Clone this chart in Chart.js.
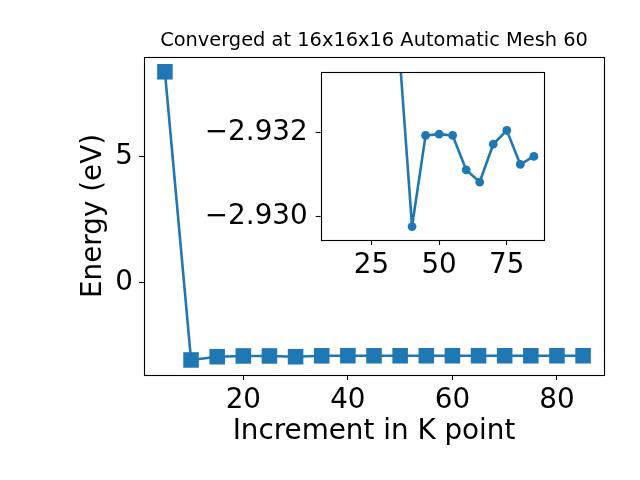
<!DOCTYPE html>
<html>
<head>
<meta charset="utf-8">
<script src="https://cdn.jsdelivr.net/npm/chart.js@4.4.0/dist/chart.umd.min.js"></script>
<style>
  body { margin: 0; background: #fff; }
  #wrap { position: relative; width: 640px; height: 480px; }
  #wrap canvas { position: absolute; left: 0; top: 0; }
</style>
</head>
<body>
<div id="wrap">
  <canvas id="main" width="640" height="480"></canvas>
  <canvas id="inset" width="640" height="480"></canvas>
</div>
<script>
// k-point increments and total energy (eV)
const kPoints = [5, 10, 15, 20, 25, 30, 35, 40, 45, 50, 55, 60, 65, 70, 75, 80, 85];
const energies = [8.40, -3.10, -2.97, -2.94, -2.94, -2.97, -2.9342, -2.92977, -2.93194,
  -2.93197, -2.93194, -2.93112, -2.93083, -2.93173, -2.93206, -2.93125, -2.93144];
const mainXTicks = [20, 40, 60, 80];
const mainYTicks = [0, 5];
const insetXTicks = [25, 50, 75];
const insetYTicks = [-2.932, -2.930];
const titleText = 'Converged at 16x16x16 Automatic Mesh 60';
const xLabel = 'Increment in K point';
const yLabel = 'Energy (eV)';

const blue = '#1f77b4';
Chart.defaults.font.family = "'DejaVu Sans', sans-serif";
Chart.defaults.color = '#000';

const minus = v => String(v).replace('-', '\u2212');

// matplotlib style box around the plot area
const framePlugin = {
  id: 'frame',
  beforeDatasetsDraw(chart, args, opts) {
    if (!opts.fill) return;
    const a = chart.chartArea, ctx = chart.ctx;
    ctx.save();
    ctx.fillStyle = '#fff';
    ctx.fillRect(a.left, a.top, a.right - a.left, a.bottom - a.top);
    ctx.restore();
  },
  afterDatasetsDraw(chart) {
    const a = chart.chartArea, ctx = chart.ctx;
    ctx.save();
    ctx.strokeStyle = '#000';
    ctx.lineWidth = 1.1;
    ctx.strokeRect(Math.round(a.left) + 0.5, Math.round(a.top) + 0.5,
      Math.round(a.right - a.left), Math.round(a.bottom - a.top));
    ctx.restore();
  }
};

const points = (xs, ys) => xs.map((x, i) => ({ x: x, y: ys[i] }));

const tickGrid = { drawOnChartArea: false, tickLength: 5, tickColor: '#000', tickWidth: 1.1 };

new Chart(document.getElementById('main'), {
  type: 'scatter',
  data: {
    datasets: [{
      data: points(kPoints, energies),
      showLine: true,
      borderColor: blue,
      backgroundColor: blue,
      borderWidth: 2.6,
      borderJoinStyle: 'round',
      borderCapStyle: 'round',
      pointStyle: 'rect',
      pointRadius: 11,
      pointBorderWidth: 0
    }]
  },
  options: {
    responsive: false,
    animation: false,
    events: [],
    layout: { padding: { left: 0, right: 36, top: 0, bottom: 0 } },
    plugins: {
      legend: { display: false },
      tooltip: { enabled: false },
      title: {
        display: true,
        fullSize: false,
        text: titleText,
        color: '#000',
        font: { size: 19.4, weight: 'normal' },
        padding: { top: 29.4, bottom: 4.3 }
      },
      frame: { fill: false }
    },
    scales: {
      x: {
        type: 'linear', min: 1, max: 89,
        afterBuildTicks: s => { s.ticks = mainXTicks.map(v => ({ value: v })); },
        afterFit: s => { s.height = 105; },
        grid: tickGrid,
        border: { display: false },
        ticks: { font: { size: 27.8 }, color: '#000', padding: 4, maxRotation: 0, callback: minus },
        title: { display: true, text: xLabel, color: '#000', font: { size: 27.8 }, padding: { top: 0, bottom: 32 } }
      },
      y: {
        type: 'linear', min: -3.70, max: 8.99,
        afterBuildTicks: s => { s.ticks = mainYTicks.map(v => ({ value: v })); },
        afterFit: s => { s.width = 144; },
        grid: tickGrid,
        border: { display: false },
        ticks: { font: { size: 27.8 }, color: '#000', padding: 6, callback: minus },
        title: { display: true, text: yLabel, color: '#000', font: { size: 27.8 }, padding: { top: 77, bottom: 0 } }
      }
    }
  },
  plugins: [framePlugin]
});

// zoomed inset, without the first point
new Chart(document.getElementById('inset'), {
  type: 'scatter',
  data: {
    datasets: [{
      data: points(kPoints.slice(1), energies.slice(1)),
      showLine: true,
      borderColor: blue,
      backgroundColor: blue,
      borderWidth: 2.6,
      borderJoinStyle: 'round',
      borderCapStyle: 'round',
      pointStyle: 'circle',
      pointRadius: 4.4,
      pointBorderWidth: 0
    }]
  },
  options: {
    responsive: false,
    animation: false,
    events: [],
    layout: { padding: { left: 0, right: 96, top: 72, bottom: 200 } },
    plugins: {
      legend: { display: false },
      tooltip: { enabled: false },
      frame: { fill: true }
    },
    scales: {
      x: {
        type: 'linear', min: 6.25, max: 88.75,
        afterBuildTicks: s => { s.ticks = insetXTicks.map(v => ({ value: v })); },
        afterFit: s => { s.height = 40; },
        grid: tickGrid,
        border: { display: false },
        ticks: { font: { size: 27.8 }, color: '#000', padding: 4, maxRotation: 0 }
      },
      y: {
        type: 'linear', reverse: true, min: -2.93345, max: -2.92945,
        afterBuildTicks: s => { s.ticks = insetYTicks.map(v => ({ value: v })); },
        afterFit: s => { s.width = 320.7; },
        grid: tickGrid,
        border: { display: false },
        ticks: { font: { size: 27.8 }, color: '#000', padding: 8, callback: v => minus(v.toFixed(3)) }
      }
    }
  },
  plugins: [framePlugin]
});
</script>
</body>
</html>
